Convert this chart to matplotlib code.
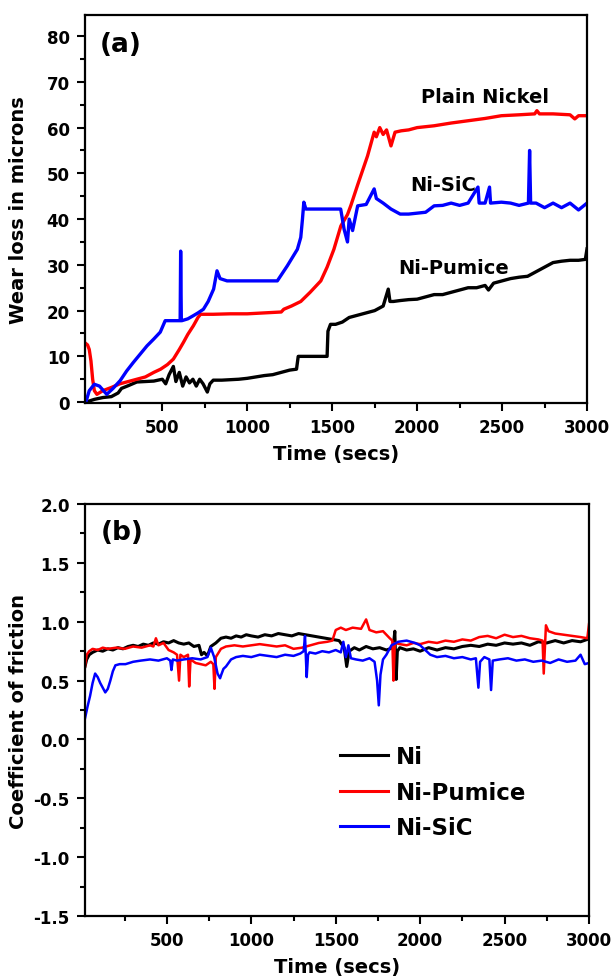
import matplotlib
matplotlib.use("Agg")
import matplotlib.pyplot as plt
from matplotlib.ticker import MultipleLocator

# ---- (a) wear loss, microns vs time (s) ----
ni_pum_t = [50, 100, 150, 200, 240, 260, 300, 350, 400, 450,
            500, 520, 540, 565, 580, 600, 620, 640, 660, 680,
            700, 720, 740, 765, 780, 800, 850, 900, 950, 1000,
            1050, 1100, 1150, 1200, 1250, 1290, 1300, 1350, 1400, 1470,
            1475, 1490, 1520, 1560, 1600, 1650, 1700, 1750, 1800, 1830,
            1840, 1860, 1900, 1950, 2000, 2050, 2100, 2150, 2200, 2250,
            2300, 2350, 2400, 2420, 2450, 2500, 2550, 2600, 2650, 2700,
            2750, 2800, 2850, 2900, 2950, 2990, 3000]
ni_pum_w = [0, 0.6, 1, 1.2, 2, 3, 3.6, 4.4, 4.5, 4.6,
            5, 4, 6, 7.8, 4.5, 6.5, 3.5, 5.5, 4.2, 5,
            3.5, 5, 4, 2.2, 4, 4.8, 4.8, 4.9, 5, 5.2,
            5.5, 5.8, 6, 6.5, 7, 7.2, 10, 10, 10, 10,
            15.5, 17, 17, 17.5, 18.5, 19, 19.5, 20, 21, 24.7,
            22, 22, 22.2, 22.4, 22.5, 23, 23.5, 23.5, 24, 24.5,
            25, 25, 25.5, 24.5, 26, 26.5, 27, 27.3, 27.5, 28.5,
            29.5, 30.5, 30.8, 31, 31, 31.2, 33.5]

plain_t = [50, 60, 70, 80, 90, 100, 115, 150, 200, 250,
           300, 350, 400, 450, 490, 530, 565, 600, 625, 650,
           683, 710, 725, 800, 900, 1000, 1100, 1200, 1215, 1260,
           1315, 1370, 1433, 1470, 1510, 1551, 1590, 1610, 1650, 1708,
           1747, 1760, 1780, 1800, 1820, 1846, 1870, 1906, 1950, 2000,
           2100, 2200, 2300, 2400, 2496, 2600, 2692, 2705, 2720, 2800,
           2900, 2928, 2950, 3000]
plain_w = [12.8, 12.5, 11.5, 9, 5, 2.5, 1.7, 2.5, 3.2, 4.0,
           4.5, 5.0, 5.5, 6.5, 7.2, 8.2, 9.4, 11.5, 13.1, 14.8,
           16.7, 18.5, 19.2, 19.2, 19.3, 19.3, 19.5, 19.7, 20.3, 21.0,
           22, 24, 26.5, 29.5, 33.4, 38.5, 41, 43, 47.5, 53.8,
           59, 58, 60, 58.5, 59.5, 56, 59, 59.3, 59.5, 60,
           60.4, 61, 61.5, 62, 62.6, 62.8, 63, 63.7, 63, 63,
           62.8, 61.9, 62.6, 62.6]

sic_t = [50, 70, 100, 130, 173, 210, 252, 290, 330, 370,
         410, 450, 488, 517, 560, 605, 608, 612, 615, 650,
         683, 710, 742, 770, 802, 822, 840, 881, 950, 1000,
         1100, 1177, 1236, 1295, 1315, 1325, 1333, 1345, 1400, 1450,
         1500, 1550, 1570, 1590, 1600, 1620, 1650, 1700, 1747, 1760,
         1800, 1846, 1900, 1950, 2000, 2050, 2100, 2150, 2200, 2250,
         2300, 2358, 2365, 2400, 2426, 2432, 2496, 2550, 2600, 2655,
         2662, 2668, 2700, 2750, 2800, 2850, 2900, 2950, 3000]
sic_w = [0, 2.5, 3.9, 3.5, 1.7, 3, 4.7, 6.8, 8.7, 10.5,
         12.3, 13.8, 15.3, 17.8, 17.8, 17.8, 33, 17.8, 17.8, 18.2,
         18.9, 19.5, 20.3, 22, 24.7, 28.7, 27, 26.5, 26.5, 26.5,
         26.5, 26.5, 29.8, 33.4, 36, 40, 43.7, 42.2, 42.2, 42.2,
         42.2, 42.2, 37.8, 35, 40, 37.5, 42.9, 43.2, 46.6, 44.5,
         43.5, 42.2, 41.1, 41.1, 41.3, 41.5, 42.9, 43, 43.5, 43,
         43.5, 47, 43.5, 43.5, 47, 43.5, 43.7, 43.5, 43, 43.5,
         55, 43.5, 43.5, 42.5, 43.5, 42.5, 43.5, 42, 43.5]

# ---- (b) coefficient of friction vs time (s) ----
ni_t = [15, 25, 40, 60, 90, 120, 150, 180, 210, 240,
        270, 300, 330, 360, 390, 420, 450, 480, 510, 540,
        570, 600, 630, 660, 690, 705, 720, 740, 760, 790,
        820, 850, 880, 910, 940, 970, 1000, 1040, 1080, 1120,
        1160, 1200, 1240, 1280, 1320, 1360, 1400, 1440, 1480, 1520,
        1550, 1565, 1580, 1610, 1640, 1680, 1720, 1760, 1800, 1840,
        1850, 1858, 1865, 1880, 1920, 1960, 2000, 2050, 2100, 2150,
        2200, 2250, 2300, 2350, 2400, 2450, 2500, 2550, 2600, 2650,
        2700, 2750, 2800, 2850, 2900, 2950, 2990, 3000]
ni_cof = [0.62, 0.68, 0.72, 0.74, 0.76, 0.75, 0.77, 0.76, 0.78, 0.77,
          0.79, 0.80, 0.79, 0.81, 0.80, 0.82, 0.81, 0.83, 0.82, 0.84,
          0.82, 0.81, 0.82, 0.79, 0.80, 0.72, 0.74, 0.71, 0.79, 0.82,
          0.86, 0.87, 0.86, 0.88, 0.87, 0.89, 0.88, 0.87, 0.89, 0.88,
          0.90, 0.89, 0.88, 0.90, 0.89, 0.88, 0.87, 0.86, 0.85, 0.84,
          0.78, 0.62, 0.75, 0.78, 0.76, 0.79, 0.77, 0.78, 0.76, 0.78,
          0.92, 0.51, 0.75, 0.78, 0.76, 0.77, 0.75, 0.78, 0.76, 0.78,
          0.77, 0.79, 0.80, 0.79, 0.81, 0.80, 0.82, 0.81, 0.82, 0.80,
          0.83, 0.82, 0.84, 0.82, 0.84, 0.83, 0.85, 0.88]

pum_t = [15, 25, 40, 60, 90, 120, 150, 200, 250, 300,
         350, 400, 420, 435, 450, 480, 510, 540, 560, 572,
         580, 600, 625, 632, 640, 670, 700, 730, 760, 775,
         782, 790, 820, 850, 900, 950, 1000, 1050, 1100, 1150,
         1200, 1250, 1300, 1350, 1400, 1450, 1480, 1500, 1530, 1560,
         1600, 1650, 1680, 1700, 1740, 1780, 1820, 1835, 1842, 1850,
         1880, 1920, 1960, 2000, 2050, 2100, 2150, 2200, 2250, 2300,
         2350, 2400, 2450, 2500, 2550, 2600, 2650, 2700, 2725, 2732,
         2745, 2760, 2800, 2850, 2900, 2950, 2990, 3000]
pum_cof = [0.62, 0.72, 0.75, 0.77, 0.76, 0.78, 0.77, 0.78, 0.77, 0.79,
           0.78, 0.80, 0.79, 0.86, 0.80, 0.82, 0.76, 0.74, 0.72, 0.50,
           0.72, 0.70, 0.72, 0.45, 0.68, 0.65, 0.64, 0.63, 0.66, 0.64,
           0.43, 0.70, 0.77, 0.79, 0.80, 0.79, 0.80, 0.81, 0.80, 0.79,
           0.80, 0.77, 0.78, 0.80, 0.82, 0.83, 0.84, 0.93, 0.95, 0.93,
           0.95, 0.94, 1.02, 0.93, 0.91, 0.92, 0.86, 0.84, 0.50, 0.82,
           0.81, 0.80, 0.82, 0.81, 0.83, 0.82, 0.84, 0.83, 0.85, 0.84,
           0.87, 0.88, 0.86, 0.89, 0.87, 0.88, 0.86, 0.85, 0.84, 0.56,
           0.97, 0.92, 0.90, 0.89, 0.88, 0.87, 0.86, 0.98]

sc_t = [15, 30, 45, 60, 75, 90, 105, 120, 135, 150,
        165, 180, 195, 220, 255, 300, 345, 400, 450, 500,
        520, 527, 535, 560, 600, 650, 700, 740, 760, 780,
        800, 815, 822, 835, 850, 880, 910, 950, 1000, 1050,
        1100, 1150, 1200, 1250, 1290, 1310, 1318, 1328, 1336, 1345,
        1380, 1420, 1460, 1500, 1530, 1545, 1560, 1575, 1590, 1620,
        1660, 1700, 1730, 1745, 1755, 1765, 1780, 1800, 1830, 1870,
        1920, 1970, 2000, 2030, 2060, 2100, 2150, 2200, 2250, 2300,
        2330, 2345, 2355, 2380, 2410, 2420, 2430, 2470, 2520, 2570,
        2620, 2670, 2720, 2770, 2820, 2870, 2920, 2950, 2975, 3000]
sc_cof = [0.18, 0.28, 0.37, 0.48, 0.56, 0.53, 0.48, 0.44, 0.40, 0.43,
          0.50, 0.58, 0.63, 0.64, 0.64, 0.66, 0.67, 0.68, 0.67, 0.69,
          0.67, 0.59, 0.68, 0.67, 0.68, 0.69, 0.68, 0.70, 0.78, 0.70,
          0.56, 0.52, 0.55, 0.60, 0.62, 0.68, 0.70, 0.71, 0.70, 0.72,
          0.71, 0.70, 0.72, 0.71, 0.73, 0.75, 0.88, 0.53, 0.72, 0.74,
          0.73, 0.75, 0.74, 0.76, 0.74, 0.83, 0.70, 0.80, 0.69, 0.68,
          0.67, 0.69, 0.66, 0.50, 0.29, 0.55, 0.68, 0.72, 0.80, 0.83,
          0.84, 0.82, 0.80, 0.76, 0.72, 0.70, 0.71, 0.69, 0.70, 0.68,
          0.69, 0.44, 0.66, 0.70, 0.68, 0.42, 0.67, 0.68, 0.69, 0.67,
          0.68, 0.66, 0.67, 0.65, 0.68, 0.66, 0.67, 0.72, 0.64, 0.65]

plt.rcParams['font.family'] = ['DejaVu Sans']
plt.rcParams['font.weight'] = 'bold'
plt.rcParams['axes.unicode_minus'] = False

fig = plt.figure(figsize=(6.12, 9.79), dpi=100)
ax1 = fig.add_axes([0.1389, 0.5873, 0.8203, 0.3963])
ax2 = fig.add_axes([0.1389, 0.0633, 0.8235, 0.4208])


def style_axes(ax, ylab):
    for sp in ax.spines.values():
        sp.set_linewidth(1.6)
    ax.tick_params(which='major', direction='out', length=6, width=1.5,
                   labelsize=12, pad=5, top=False, right=False)
    ax.tick_params(which='minor', direction='out', length=3.5, width=1.5,
                   top=False, right=False)
    ax.xaxis.set_major_locator(MultipleLocator(500))
    ax.xaxis.set_minor_locator(MultipleLocator(250))
    ax.set_xlabel('Time (secs)', fontsize=14, fontweight='bold')
    ax.set_ylabel(ylab, fontsize=14, fontweight='bold')
    ax.yaxis.set_label_coords(-0.113, 0.5)
    for lab in ax.get_xticklabels() + ax.get_yticklabels():
        lab.set_fontweight('bold')


# (a)
ax1.plot(ni_pum_t, ni_pum_w, color='black', lw=2.4)
ax1.plot(plain_t, plain_w, color='#ff0000', lw=2.4)
ax1.plot(sic_t, sic_w, color='#0000ff', lw=2.4)
ax1.set_xlim(45, 3000)
ax1.set_ylim(-0.2, 84.6)
style_axes(ax1, 'Wear loss in microns')
ax1.yaxis.set_major_locator(MultipleLocator(10))
ax1.yaxis.set_minor_locator(MultipleLocator(5))
ax1.xaxis.set_label_coords(0.5, -0.105)
ax1.text(0.072, 0.925, '(a)', transform=ax1.transAxes, fontsize=19,
         fontweight='bold', ha='center', va='center')
ax1.text(2402, 66.7, 'Plain Nickel', fontsize=14, fontweight='bold',
         ha='center', va='center')
ax1.text(2151, 47.6, 'Ni-SiC', fontsize=14, fontweight='bold',
         ha='center', va='center')
ax1.text(2213, 29.5, 'Ni-Pumice', fontsize=14, fontweight='bold',
         ha='center', va='center')

# (b)
ax2.plot(ni_t, ni_cof, color='black', lw=2.2, label='Ni')
ax2.plot(pum_t, pum_cof, color='#ff0000', lw=1.8, label='Ni-Pumice')
ax2.plot(sc_t, sc_cof, color='#0000ff', lw=1.8, label='Ni-SiC')
ax2.set_xlim(15, 3000)
ax2.set_ylim(-1.5, 2.0)
style_axes(ax2, 'Coefficient of friction')
ax2.yaxis.set_major_locator(MultipleLocator(0.5))
ax2.yaxis.set_minor_locator(MultipleLocator(0.25))
ax2.yaxis.set_major_formatter(plt.FormatStrFormatter('%.1f'))
ax2.xaxis.set_label_coords(0.5, -0.1)
ax2.text(0.073, 0.932, '(b)', transform=ax2.transAxes, fontsize=19,
         fontweight='bold', ha='center', va='center')
leg = ax2.legend(loc='upper left', bbox_to_anchor=(0.505, 0.415),
                 frameon=False, prop={'size': 16.5, 'weight': 'bold'},
                 handlelength=2.1, handletextpad=0.35, labelspacing=0.55,
                 borderpad=0, borderaxespad=0)
for line in leg.get_lines():
    line.set_linewidth(2.2)

fig.savefig('out.png', dpi=100)
